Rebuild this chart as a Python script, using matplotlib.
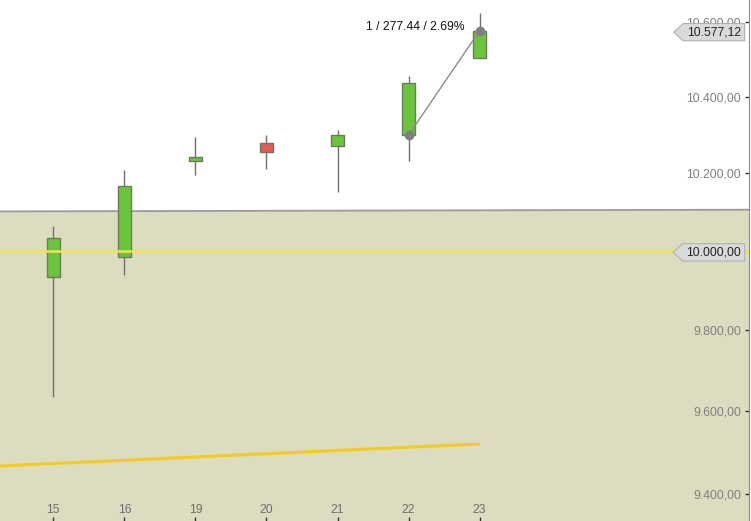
import numpy as np
import matplotlib.pyplot as plt
from matplotlib.path import Path
from matplotlib.ticker import FixedLocator, FuncFormatter, NullLocator

plt.rcParams['font.family'] = ['Liberation Sans', 'DejaVu Sans']

# daily candles
days = ['15', '16', '19', '20', '21', '22', '23']
opens = [9933.0, 9984.0, 10231.0, 10279.0, 10270.0, 10299.68, 10503.0]
highs = [10064.0, 10208.0, 10295.0, 10300.0, 10313.0, 10456.0, 10624.0]
lows = [9635.0, 9940.0, 10194.0, 10212.0, 10150.0, 10231.0, 10503.0]
closes = [10032.0, 10167.0, 10241.0, 10256.0, 10300.0, 10436.0, 10577.12]

# slow moving average (starts one bar before the first visible day)
slow_ma_x = [-1, 0, 1, 2, 3, 4, 5, 6]
slow_ma = [9464.8, 9472.7, 9480.6, 9488.5, 9496.4, 9504.3, 9512.2, 9520.0]

# grey line with the beige zone below it
zone_x = [-0.85, 9.9]
zone_level = [10101.0, 10105.5]

level_line = 10000.0
y_ticks = [9400, 9600, 9800, 10000, 10200, 10400, 10600]
y_limits = (9335, 10660)
x_limits = (-0.75, 9.79)


def de_format(v, pos=None):
    s = f"{v:,.2f}"
    return s.replace(',', 'X').replace('.', ',').replace('X', '.')


def tag_box(x0, y0, width, height, mutation_size):
    # rectangle with a pointed left side (custom styles get no pad, add it here)
    px = mutation_size * 0.3
    py = mutation_size * 0.22
    x0, y0 = x0 - px, y0 - py
    width, height = width + 2 * px, height + 2 * py
    tip = height * 0.55
    verts = [(x0 - tip, y0 + height / 2), (x0, y0), (x0 + width, y0),
             (x0 + width, y0 + height), (x0, y0 + height),
             (x0 - tip, y0 + height / 2)]
    return Path(verts, closed=True)


fig = plt.figure(figsize=(7.51, 5.21), dpi=100)
ax = fig.add_axes([0, 0, 749 / 751, 1])
ax.set_yscale('log')
ax.set_xlim(*x_limits)
ax.set_ylim(*y_limits)

# background zone
ax.fill_between(zone_x, [y_limits[0]] * 2, zone_level, color='#dcdcc1', lw=0, zorder=0)
ax.plot(zone_x, zone_level, color='#9a9a9a', lw=1.3, zorder=1)

# moving average and level line
ax.plot(slow_ma_x, slow_ma, color='#f5cc1c', lw=2.2, zorder=2, solid_capstyle='butt')

x = np.arange(len(days))
up = [c >= o for o, c in zip(opens, closes)]
body_colors = ['#6cc43c' if u else '#ea5757' for u in up]
bottoms = [min(o, c) for o, c in zip(opens, closes)]
heights = [abs(c - o) for o, c in zip(opens, closes)]

ax.vlines(x, lows, highs, color='#707070', lw=1, zorder=3)
ax.bar(x, heights, bottom=bottoms, width=0.175, color=body_colors,
       edgecolor='#6b7b5b', linewidth=1, zorder=4)

ax.axhline(level_line, color='#efe54c', lw=1.8, zorder=5)

# measurement from open of day 22 to close of day 23
m_start = opens[5]
m_end = closes[6]
diff = m_end - m_start
pct = diff / m_start * 100
ax.plot([5, 6], [m_start, m_end], color='#8c8c8c', lw=1, marker='o', ms=6,
        mfc='#808080', mec='#808080', zorder=6)
ax.annotate(f"1 / {diff:.2f} / {pct:.2f}%", xy=(6, m_end), xytext=(-15, 0.5),
            textcoords='offset pixels', ha='right', va='baseline',
            fontsize=8.7, color='#111111', zorder=7)

# axis styling
for side in ['left', 'top', 'bottom']:
    ax.spines[side].set_visible(False)
ax.spines['right'].set_color('#8c8c8c')

ax.yaxis.tick_right()
ax.yaxis.set_major_locator(FixedLocator(y_ticks))
ax.yaxis.set_major_formatter(FuncFormatter(de_format))
ax.yaxis.set_minor_locator(NullLocator())
ax.tick_params(axis='y', which='major', direction='in', length=3, width=1,
               color='#333333', pad=-5.8, labelsize=8.7, labelcolor='#7f7f7f')
for t in ax.get_yticklabels():
    t.set_horizontalalignment('right')

ax.set_xticks(x)
ax.set_xticklabels(days)
ax.tick_params(axis='x', direction='in', length=3, width=1, color='#333333',
               pad=-5.8, labelsize=8.7, labelcolor='#6e6e6e')
for t in ax.get_xticklabels():
    t.set_verticalalignment('baseline')

# price tags on the right edge
for val in [m_end, level_line]:
    ax.annotate(de_format(val), xy=(1, val), xycoords=ax.get_yaxis_transform(),
                xytext=(-8, 0), textcoords='offset pixels', ha='right',
                va='center_baseline', fontsize=8.7, color='#222222', zorder=10,
                annotation_clip=False,
                bbox=dict(boxstyle=tag_box, fc='#dadada', ec='#b0b0b0', lw=0.8))

fig.savefig('out.png', dpi=100, facecolor='white')
